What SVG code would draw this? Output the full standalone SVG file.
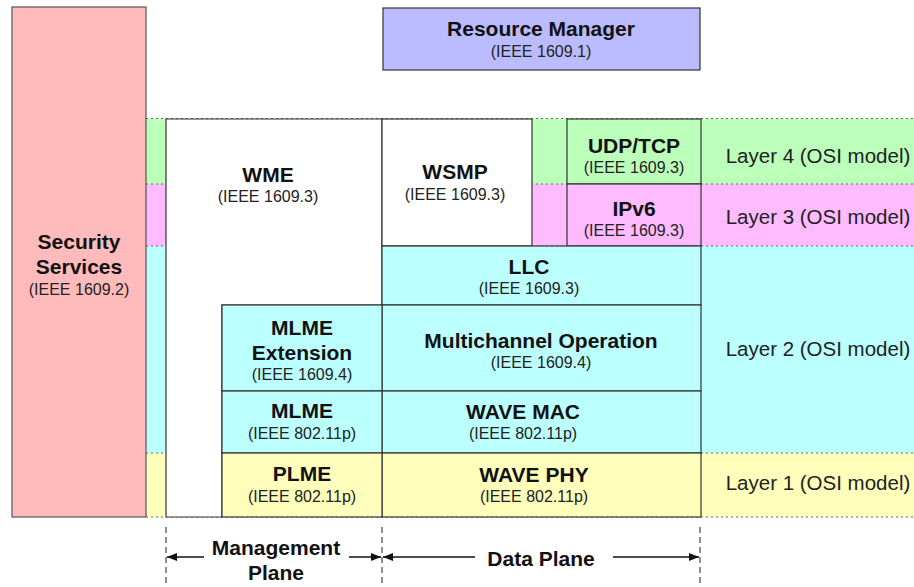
<svg xmlns="http://www.w3.org/2000/svg" width="914" height="587" viewBox="0 0 914 587">
<defs>
<style>
.t{font-family:"Liberation Sans",Arial,sans-serif;font-weight:bold;font-size:21px;fill:#111;text-anchor:middle}
.s{font-family:"Liberation Sans",Arial,sans-serif;font-size:16px;fill:#222;text-anchor:middle}
.l{font-family:"Liberation Sans",Arial,sans-serif;font-size:20.5px;fill:#222;text-anchor:middle}
.box{stroke:#333;stroke-width:1.2}
.dot{stroke:#666;stroke-width:1;stroke-dasharray:2,3;fill:none}
.vd{stroke:#444;stroke-width:1.2;stroke-dasharray:6,4;fill:none}
.ar{stroke:#111;stroke-width:1.5;fill:none}
</style>
<marker id="ah" viewBox="0 0 10 10" refX="10" refY="5" markerWidth="10" markerHeight="10" markerUnits="userSpaceOnUse" orient="auto">
<path d="M0,1 L10,5 L0,9 Z" fill="#111"/>
</marker>
</defs>
<rect width="914" height="587" fill="#fff"/>
<g id="bands">
<rect x="146" y="118.5" width="768" height="65.5" fill="#bbffbb"/>
<rect x="146" y="184" width="768" height="62" fill="#ffbbff"/>
<rect x="146" y="246" width="768" height="207" fill="#bbffff"/>
<rect x="146" y="453" width="768" height="64" fill="#ffffbb"/>
<path class="dot" d="M146,118.5H914M146,184H914M146,246H914M146,453H914M146,517H914"/>
</g>
<g id="security">
<rect x="12" y="7" width="134" height="510" fill="#ffbbbb" stroke="#555" stroke-width="1.2"/>
<text class="t" x="79" y="249">Security</text>
<text class="t" x="79" y="274">Services</text>
<text class="s" x="79" y="295">(IEEE 1609.2)</text>
</g>
<g id="resource-manager">
<rect x="383" y="8" width="317" height="62" fill="#bbbbff" class="box"/>
<text class="t" x="541" y="36">Resource Manager</text>
<text class="s" x="541" y="57">(IEEE 1609.1)</text>
</g>
<g id="wme">
<path d="M166,119H382V305H222V517H166Z" fill="#fff" class="box"/>
<text class="t" x="268" y="182">WME</text>
<text class="s" x="268" y="202">(IEEE 1609.3)</text>
</g>
<g id="wsmp">
<rect x="382" y="119" width="150" height="127" fill="#fff" class="box"/>
<text class="t" x="455" y="179">WSMP</text>
<text class="s" x="455" y="200">(IEEE 1609.3)</text>
</g>
<g id="udp-tcp">
<rect x="567" y="119" width="134" height="65" fill="#bbffbb" class="box"/>
<text class="t" x="634" y="153">UDP/TCP</text>
<text class="s" x="634" y="173">(IEEE 1609.3)</text>
</g>
<g id="ipv6">
<rect x="567" y="184" width="134" height="62" fill="#ffbbff" class="box"/>
<text class="t" x="634" y="216">IPv6</text>
<text class="s" x="634" y="236">(IEEE 1609.3)</text>
</g>
<g id="llc">
<rect x="382" y="246" width="319" height="59" fill="#bbffff" class="box"/>
<text class="t" x="529" y="274">LLC</text>
<text class="s" x="529" y="294">(IEEE 1609.3)</text>
</g>
<g id="multichannel">
<rect x="382" y="305" width="319" height="86" fill="#bbffff" class="box"/>
<text class="t" x="541" y="348">Multichannel Operation</text>
<text class="s" x="541" y="368">(IEEE 1609.4)</text>
</g>
<g id="wave-mac">
<rect x="382" y="391" width="319" height="62" fill="#bbffff" class="box"/>
<text class="t" x="523" y="419">WAVE MAC</text>
<text class="s" x="523" y="439">(IEEE 802.11p)</text>
</g>
<g id="wave-phy">
<rect x="382" y="453" width="319" height="64" fill="#ffffbb" class="box"/>
<text class="t" x="534" y="482">WAVE PHY</text>
<text class="s" x="534" y="502">(IEEE 802.11p)</text>
</g>
<g id="mlme-extension">
<rect x="222" y="305" width="160" height="86" fill="#bbffff" class="box"/>
<text class="t" x="302" y="335">MLME</text>
<text class="t" x="302" y="360">Extension</text>
<text class="s" x="302" y="380">(IEEE 1609.4)</text>
</g>
<g id="mlme">
<rect x="222" y="391" width="160" height="62" fill="#bbffff" class="box"/>
<text class="t" x="302" y="418">MLME</text>
<text class="s" x="302" y="439">(IEEE 802.11p)</text>
</g>
<g id="plme">
<rect x="222" y="453" width="160" height="64" fill="#ffffbb" class="box"/>
<text class="t" x="302" y="481">PLME</text>
<text class="s" x="302" y="502">(IEEE 802.11p)</text>
</g>
<g id="layers">
<text class="l" x="818" y="163">Layer 4 (OSI model)</text>
<text class="l" x="818" y="224">Layer 3 (OSI model)</text>
<text class="l" x="818" y="356">Layer 2 (OSI model)</text>
<text class="l" x="818" y="490">Layer 1 (OSI model)</text>
</g>
<g id="connectors">
<path class="vd" d="M166,527V587M382,527V587M700,527V587"/>
<path class="ar" d="M204,557H167" marker-end="url(#ah)"/>
<path class="ar" d="M349,557H381" marker-end="url(#ah)"/>
<path class="ar" d="M475,557H383" marker-end="url(#ah)"/>
<path class="ar" d="M613,557H699" marker-end="url(#ah)"/>
</g>
<g id="planes">
<text class="t" x="276" y="555">Management</text>
<text class="t" x="276" y="580">Plane</text>
<text class="t" x="541" y="566">Data Plane</text>
</g>
</svg>
